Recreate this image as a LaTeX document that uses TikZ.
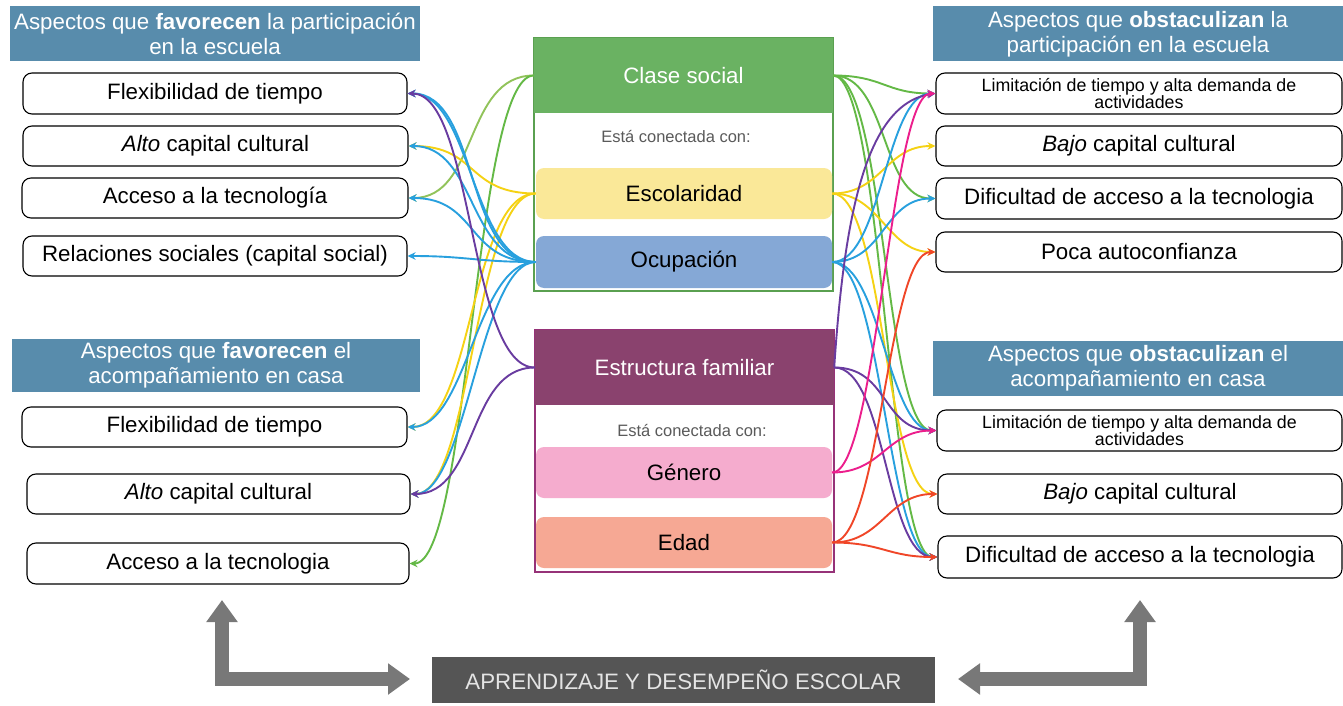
\documentclass[tikz,border=0pt]{standalone}
\usepackage{fontspec}
\setmainfont{Liberation Sans}
\usetikzlibrary{arrows.meta}
\definecolor{hdrblue}{RGB}{88,140,172}
\definecolor{csgreen}{RGB}{106,178,98}
\definecolor{csborder}{RGB}{90,160,80}
\definecolor{escyel}{RGB}{250,232,152}
\definecolor{ocublue}{RGB}{133,168,214}
\definecolor{efpurp}{RGB}{138,66,110}
\definecolor{efborder}{RGB}{150,50,120}
\definecolor{genpink}{RGB}{245,172,206}
\definecolor{edadsal}{RGB}{246,168,148}
\definecolor{cgreen}{RGB}{100,185,70}
\definecolor{clgreen}{RGB}{145,195,90}
\definecolor{cyel}{RGB}{245,210,20}
\definecolor{cblue}{RGB}{40,160,222}
\definecolor{cpurp}{RGB}{105,60,160}
\definecolor{cpink}{RGB}{236,30,140}
\definecolor{cred}{RGB}{240,70,40}
\definecolor{botgray}{RGB}{85,85,85}
\definecolor{bottext}{RGB}{228,228,228}
\definecolor{arrgray}{RGB}{120,120,120}
\definecolor{subgray}{RGB}{90,90,90}
\newcommand\lconn[4]{\draw[conn,#1] (#2.west) .. controls +(-#4,0) and +(#4,0) .. (#3.east);}
\newcommand\rconn[4]{\draw[conn,#1] (#2.east) .. controls +(#4,0) and +(-#4,0) .. (#3.west);}
\tikzset{
  obox/.style={draw=black, line width=1.1pt, rounded corners=9pt, fill=white,
    minimum height=40pt, inner sep=0pt, align=center,
    font=\fontsize{22.3}{25}\selectfont},
  hdr/.style={fill=hdrblue, text=white, inner sep=0pt, align=center,
    font=\fontsize{22.3}{25}\selectfont},
  chead/.style={inner sep=0pt, text=white, minimum width=299pt, minimum height=75pt,
    font=\fontsize{22.3}{25}\selectfont},
  cbox/.style={inner sep=0pt, rounded corners=8pt, minimum width=296pt,
    font=\fontsize{22.3}{25}\selectfont},
  sub/.style={text=subgray, inner sep=0pt, font=\fontsize{16.5}{19}\selectfont},
  conn/.style={line width=1.9pt, -{Stealth[length=8pt,width=7.5pt]}},
  bigarr/.style={arrgray, line width=14pt, line join=miter,
    {Triangle[length=22pt,width=30pt]}-{Triangle[length=22pt,width=30pt]}}
}
\begin{document}
\begin{tikzpicture}[x=1pt,y=-1pt]
\useasboundingbox (0,0) rectangle (1343,706);
\fill[white] (0,0) rectangle (1343,706);

% headers
\node[hdr, minimum width=410pt, minimum height=55pt] (HL1) at (215,34)
  {Aspectos que \textbf{favorecen} la participación\\en la escuela};
\node[hdr, minimum width=408pt, minimum height=53pt] (HL2) at (216,365.5)
  {Aspectos que \textbf{favorecen} el\\acompañamiento en casa};
\node[hdr, minimum width=410pt, minimum height=55pt] (HR1) at (1138,34)
  {Aspectos que \textbf{obstaculizan} la\\participación en la escuela};
\node[hdr, minimum width=410pt, minimum height=55pt] (HR2) at (1138,368.5)
  {Aspectos que \textbf{obstaculizan} el\\acompañamiento en casa};

% left boxes
\node[obox, minimum width=384pt, minimum height=41pt] (L1) at (215,93.5) {Flexibilidad de tiempo};
\node[obox, minimum width=385pt] (L2) at (215.5,146) {\textit{Alto} capital cultural};
\node[obox, minimum width=386pt] (L3) at (215,198) {Acceso a la tecnología};
\node[obox, minimum width=384pt] (L4) at (215,256) {Relaciones sociales (capital social)};
\node[obox, minimum width=385pt] (L5) at (214.5,427) {Flexibilidad de tiempo};
\node[obox, minimum width=383pt] (L6) at (218.5,494) {\textit{Alto} capital cultural};
\node[obox, minimum width=382pt, minimum height=41pt] (L7) at (218,563.5) {Acceso a la tecnologia};

% right boxes
\node[obox, minimum width=406pt, minimum height=41pt, font=\fontsize{17.8}{17.5}\selectfont] (R1) at (1139,93.5)
  {Limitación de tiempo y alta demanda de\\actividades};
\node[obox, minimum width=406pt] (R2) at (1139,146) {\textit{Bajo} capital cultural};
\node[obox, minimum width=406pt, minimum height=41pt] (R3) at (1139,198.5) {Dificultad de acceso a la tecnologia};
\node[obox, minimum width=406pt] (R4) at (1139,252) {Poca autoconfianza};
\node[obox, minimum width=405pt, minimum height=41pt, font=\fontsize{17.8}{17.5}\selectfont] (R5) at (1139.5,430.5)
  {Limitación de tiempo y alta demanda de\\actividades};
\node[obox, minimum width=404pt] (R6) at (1140,494) {\textit{Bajo} capital cultural};
\node[obox, minimum width=404pt, minimum height=42pt] (R7) at (1140,557) {Dificultad de acceso a la tecnologia};

% center block 1
\draw[csborder, line width=1.5pt, fill=white] (534,38) rectangle (833,291);
\node[chead, fill=csgreen] (cs) at (683.5,75.5) {Clase social};
\node[sub] (cs-sub) at (676,137) {Está conectada con:};
\node[cbox, fill=escyel, minimum height=51pt] (esc) at (684,193.5) {Escolaridad};
\node[cbox, fill=ocublue, minimum height=52pt] (ocu) at (684,262) {Ocupación};

% center block 2
\draw[efborder, line width=1.5pt, fill=white] (535,330) rectangle (834,572);
\node[chead, fill=efpurp] (ef) at (684.5,367.5) {Estructura familiar};
\node[sub] (ef-sub) at (692,431) {Está conectada con:};
\node[cbox, fill=genpink, minimum height=51pt] (gen) at (684,472.5) {Género};
\node[cbox, fill=edadsal, minimum height=51pt] (edad) at (684,542.5) {Edad};

% bottom
\node[fill=botgray, text=bottext, inner sep=0pt, minimum width=503pt, minimum height=46pt,
  font=\fontsize{22.3}{25}\selectfont] (AP) at (683.5,680) {APRENDIZAJE Y DESEMPEÑO ESCOLAR};
\coordinate (la1) at (222,600);
\coordinate (la2) at (222,679);
\coordinate (la3) at (410,679);
\coordinate (ra1) at (1140,600);
\coordinate (ra2) at (1140,679);
\coordinate (ra3) at (958,679);
\draw[bigarr] (la1) -- (la2) -- (la3);
\draw[bigarr] (ra1) -- (ra2) -- (ra3);

% left connectors
\lconn{clgreen}{cs}{L3}{70}
\lconn{cgreen}{cs}{L7}{60}
\lconn{cyel}{esc}{L2}{70}
\lconn{cyel}{esc}{L5}{66}
\lconn{cyel}{esc}{L6}{62}
\lconn{cblue}{ocu}{L1}{72}
\lconn{cblue}{ocu}{L1}{64}
\lconn{cblue}{ocu}{L2}{68}
\lconn{cblue}{ocu}{L3}{70}
\lconn{cblue}{ocu}{L4}{60}
\lconn{cblue}{ocu}{L5}{60}
\lconn{cblue}{ocu}{L6}{56}
\lconn{cpurp}{ef}{L1}{66}
\lconn{cpurp}{ef}{L6}{68}

% right connectors
\rconn{cgreen}{cs}{R1}{50}
\rconn{cgreen}{cs}{R3}{55}
\rconn{cgreen}{cs}{R5}{52}
\rconn{cgreen}{cs}{R7}{50}
\rconn{cyel}{esc}{R2}{50}
\rconn{cyel}{esc}{R4}{48}
\rconn{cyel}{esc}{R6}{52}
\rconn{cblue}{ocu}{R1}{50}
\rconn{cblue}{ocu}{R3}{52}
\rconn{cblue}{ocu}{R5}{48}
\rconn{cblue}{ocu}{R7}{50}
\draw[conn,cpurp] (ef.east) .. controls +(10,-150) and +(-70,10) .. (R1.west);
\rconn{cpurp}{ef}{R5}{55}
\rconn{cpurp}{ef}{R7}{52}
\rconn{cpink}{gen}{R1}{45}
\rconn{cpink}{gen}{R5}{50}
\rconn{cred}{edad}{R4}{48}
\rconn{cred}{edad}{R6}{50}
\rconn{cred}{edad}{R7}{50}
\end{tikzpicture}
\end{document}
